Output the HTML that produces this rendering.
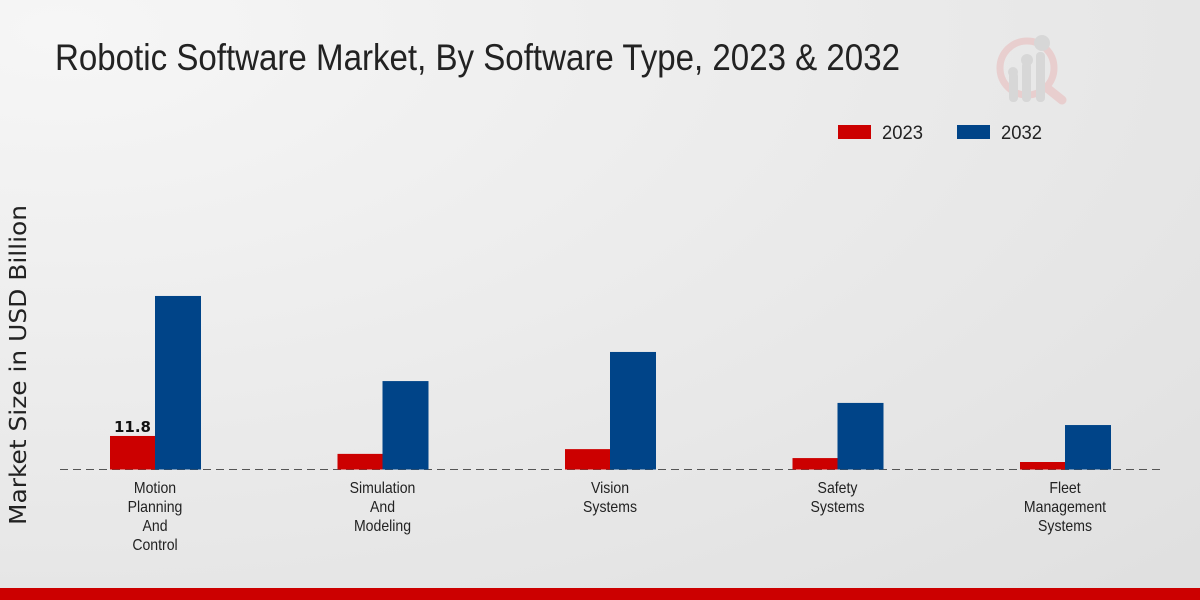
<!DOCTYPE html>
<html><head><meta charset="utf-8"><style>
html,body{margin:0;padding:0;width:1200px;height:600px;overflow:hidden}
svg{display:block}
</style></head><body>
<svg id="chart" width="1200" height="600" viewBox="0 0 1200 600">
<defs>
<radialGradient id="bg" cx="0.05" cy="0.05" r="1.3">
<stop offset="0" stop-color="#f6f6f6"/><stop offset="1" stop-color="#e0e0e0"/>
</radialGradient>
</defs>
<rect width="1200" height="600" fill="url(#bg)"/>
<text x="55" y="70" font-family="Liberation Sans, sans-serif" font-size="37" fill="#222" textLength="845" lengthAdjust="spacingAndGlyphs">Robotic Software Market, By Software Type, 2023 &amp; 2032</text>
<g opacity="0.35">
<circle cx="1027" cy="68" r="27" fill="none" stroke="#e8a0a0" stroke-width="7"/>
<line x1="1047" y1="88" x2="1062" y2="100" stroke="#e8a0a0" stroke-width="9" stroke-linecap="round"/>
<rect x="1009" y="72" width="9" height="30" rx="4" fill="#b8b8b8"/>
<rect x="1022" y="62" width="9" height="40" rx="4" fill="#b8b8b8"/>
<rect x="1036" y="52" width="9" height="50" rx="4" fill="#b8b8b8"/>
<circle cx="1013" cy="72" r="5" fill="#b8b8b8"/><circle cx="1027" cy="60" r="6" fill="#b8b8b8"/><circle cx="1042" cy="43" r="8" fill="#b8b8b8"/>
</g>
<g>
<rect x="838" y="125" width="33" height="14" fill="#cc0000"/>
<text x="882" y="139" font-family="Liberation Sans, sans-serif" font-size="19" fill="#222" textLength="41" lengthAdjust="spacingAndGlyphs">2023</text>
<rect x="957" y="125" width="33" height="14" fill="#004488"/>
<text x="1001" y="139" font-family="Liberation Sans, sans-serif" font-size="19" fill="#222" textLength="41" lengthAdjust="spacingAndGlyphs">2032</text>
</g>
<text transform="translate(26,365) rotate(-90)" text-anchor="middle" font-family="DejaVu Sans, sans-serif" font-size="23" fill="#222" textLength="320" lengthAdjust="spacingAndGlyphs">Market Size in USD Billion</text>
<line x1="60" y1="469.5" x2="1160" y2="469.5" stroke="#555" stroke-dasharray="8,5"/>
<g id="bars"></g>
<g id="labels"></g>
<rect x="0" y="588" width="1200" height="12" fill="#cc0000"/>
</svg>
<script>
const categories = [["Motion","Planning","And","Control"],["Simulation","And","Modeling"],["Vision","Systems"],["Safety","Systems"],["Fleet","Management","Systems"]];
const values2023 = [11.8, 5.4, 7.1, 3.9, 2.5];
const values2032 = [61.8, 31.4, 41.8, 23.6, 15.7];
const labelShown = ["11.8", null, null, null, null];
const NS = "http://www.w3.org/2000/svg";
const baseY = 469, pxPerUnit = 2.8, firstX = 155, step = 227.5, bw = 45;
const y = v => baseY - v * pxPerUnit;
const xc = i => firstX + i * step;
const bars = document.getElementById('bars'), labels = document.getElementById('labels');
function mk(tag, attrs){const e=document.createElementNS(NS,tag);for(const k in attrs)e.setAttribute(k,attrs[k]);return e;}
categories.forEach((cat,i)=>{
  const r1 = mk('rect',{x:xc(i)-bw,y:y(values2023[i]),width:bw,height:baseY-y(values2023[i])+0.5,fill:'#cc0000'});
  
  
  bars.appendChild(r1);
  const r2 = mk('rect',{x:xc(i),y:y(values2032[i]),width:bw+1,height:baseY-y(values2032[i])+0.5,fill:'#004488'});
  
  
  bars.appendChild(r2);
  if(labelShown[i]){
    const t = mk('text',{x:xc(i)-bw/2,y:y(values2023[i])-4,'text-anchor':'middle','font-family':'DejaVu Sans, sans-serif','font-size':'15','font-weight':'bold',fill:'#111'});
    t.textContent = labelShown[i];
    
    
    bars.appendChild(t);
  }
  const g = mk('g',{transform:'translate('+xc(i)+',0) scale(0.88,1)'});
  const t = mk('text',{'text-anchor':'middle','font-family':'Liberation Sans, sans-serif','font-size':'16',fill:'#222'});
  
  
  cat.forEach((line,j)=>{const s=mk('tspan',{x:0,y:493+j*19});s.textContent=line;t.appendChild(s);});
  g.appendChild(t);
  labels.appendChild(g);
});
</script>
</body></html>
